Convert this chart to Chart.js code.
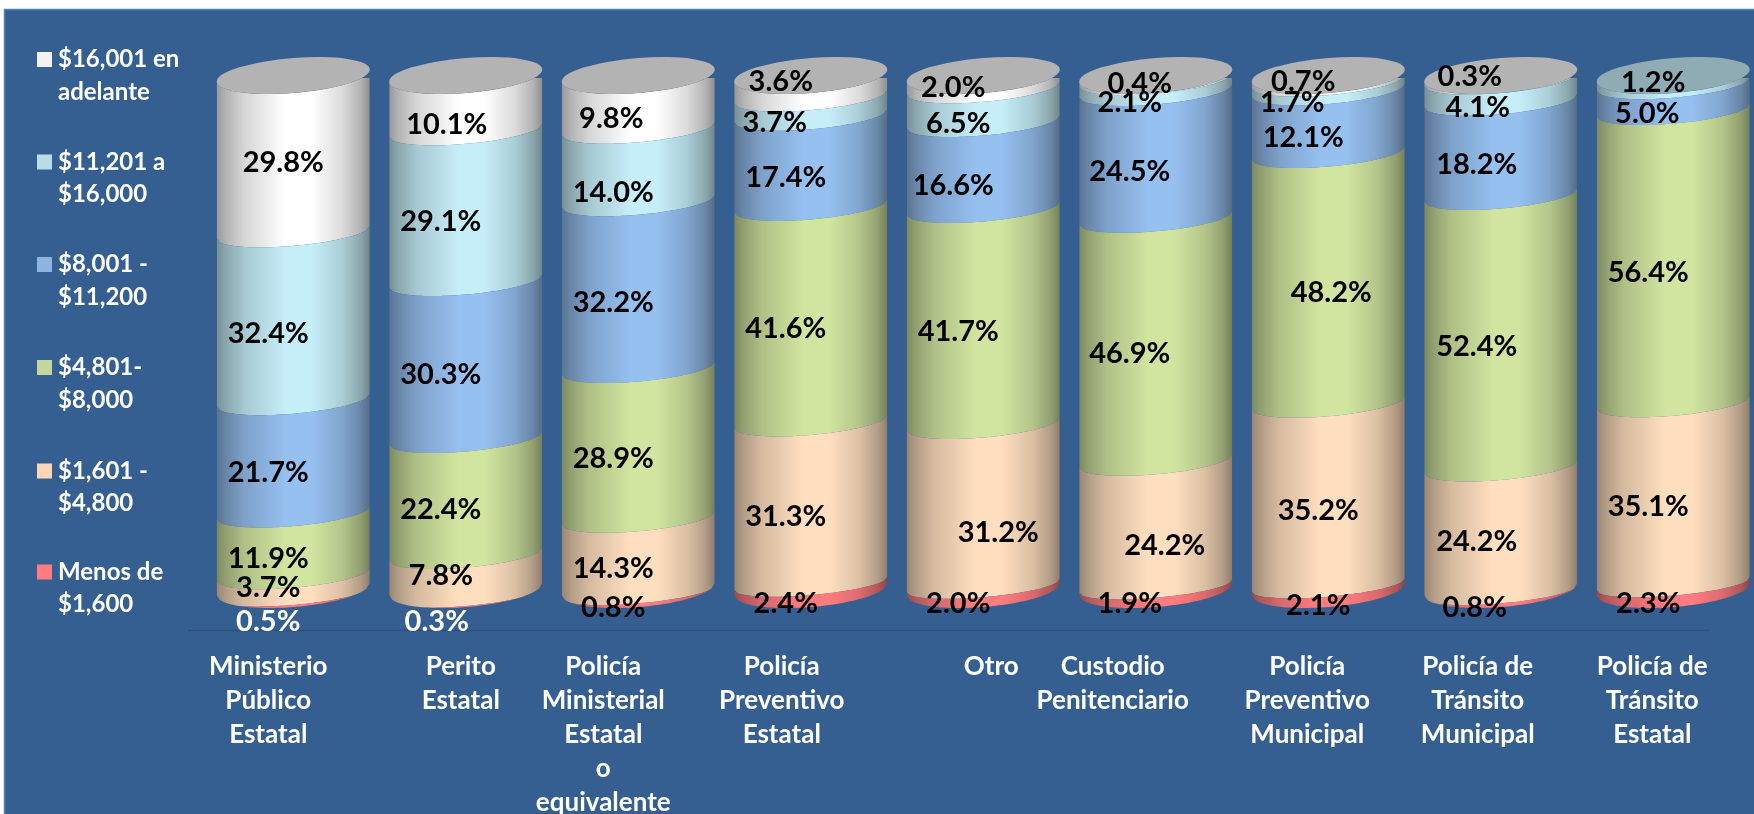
<!DOCTYPE html>
<html lang="es">
<head>
<meta charset="utf-8">
<title>Ingreso mensual por corporación</title>
<script src="https://cdn.jsdelivr.net/npm/chart.js@4"></script>
<style>
html,body{margin:0;padding:0;background:#fff;overflow:hidden;width:1754px;height:814px}
canvas{display:block}
</style>
</head>
<body>
<canvas id="c" width="1760" height="814"></canvas>
<script>
const categories = [
  ["Ministerio","Público","Estatal"],
  ["Perito","Estatal"],
  ["Policía","Ministerial","Estatal","o","equivalente"],
  ["Policía","Preventivo","Estatal"],
  ["Otro"],
  ["Custodio","Penitenciario"],
  ["Policía","Preventivo","Municipal"],
  ["Policía de","Tránsito","Municipal"],
  ["Policía de","Tránsito","Estatal"]
];
const seriesNames = [
  ["Menos de","$1,600"],
  ["$1,601 -","$4,800"],
  ["$4,801-","$8,000"],
  ["$8,001 -","$11,200"],
  ["$11,201 a","$16,000"],
  ["$16,001 en","adelante"]
];
const menos1600   = [0.5,0.3,0.8,2.4,2.0,1.9,2.1,0.8,2.3];
const de1601      = [3.7,7.8,14.3,31.3,31.2,24.2,35.2,24.2,35.1];
const de4801      = [11.9,22.4,28.9,41.6,41.7,46.9,48.2,52.4,56.4];
const de8001      = [21.7,30.3,32.2,17.4,16.6,24.5,12.1,18.2,5.0];
const de11201     = [32.4,29.1,14.0,3.7,6.5,2.1,1.7,4.1,1.2];
const de16001     = [29.8,10.1,9.8,3.6,2.0,0.4,0.7,0.3,null];
const seriesValues = [menos1600,de1601,de4801,de8001,de11201,de16001];

const bodyColors   = ["#FF7C80","#FFDFBF","#D1E5A0","#96C0F0","#C6EEF9","#FFFFFF"];
const legendColors = ["#FF7C80","#FCD5B5","#C3D69B","#8EB4E3","#B7DEE8","#F2F2F2"];

/* manual placement of the value labels, as offsets from the centre of each segment */
const labelDX = [
  [-25,-29,-25,-25,-25,-26,-10,-26,-25],
  [-25,-25,-25,-25, 15,  9,-10,-24,-25],
  [-25,-25,-25,-25,-25,-26,  3,-24,-25],
  [-25,-25,-25,-25,-30,-26,-25,-24,-26],
  [-25,-25,-25,-36,-25,-26,-36,-23,-20],
  [-10,-19,-27,-30,-30,-16,-25,-31,  0]
];
const labelDY = [
  [27,26,14,14,13,13,15,14,14],
  [ 4, 1,14,14,28,22,17,12,13],
  [15,14,16,15,16,14,15,16,16],
  [16,15,18,17,21,17,16,17,16],
  [17,16,28,16,18,17,17,17, 2],
  [ 7,20,15,-6, 4, 5, 2,-2, 0]
];
const tickDX = [-25,-5,-35,-29,8,-43,-21,-23,-21];

const FONT = "Lato, 'Open Sans', sans-serif";

const PLOT_TOP = 78;
const BAND_SKEW = 6.5, BAND_RY = 13.5, LOW_BAND_RY = 11.5; /* curve of the slices' edges */
const CAP_SKEW = 6, CAP_RY = 17.5, CAP_LIFT = 2.5;         /* the top face is seen a little wider */
const FOOT_LIFT = 7;                                       /* the base outline of the cylinder */

function shade(hex, f) {
  const n = parseInt(hex.slice(1), 16);
  const c = [n >> 16 & 255, n >> 8 & 255, n & 255].map(x => Math.round(x * f));
  return `rgb(${c[0]},${c[1]},${c[2]})`;
}
function frontArc(ctx, cx, cy, rx, ry, skew, reverse) {
  const N = 48;
  for (let i = 0; i <= N; i++) {
    const t = reverse ? 1 - i / N : i / N;
    const u = -1 + 2 * t;
    ctx.lineTo(cx + rx * u, cy - skew * u + ry * Math.sqrt(Math.max(0, 1 - u * u)));
  }
}
class CylinderSlice extends Chart.BarElement {
  static id = 'cylinderSlice';
  static defaults = Chart.BarElement.defaults;
  draw(ctx) {
    const {x, y, base, width} = this.getProps(['x', 'y', 'base', 'width']);
    if (!isFinite(y) || !isFinite(base)) return;
    const rx = width / 2, col = this.options.backgroundColor;
    const zeroPx = this.$zeroPx;
    const edgeRy = py => (zeroPx - py < 16 ? LOW_BAND_RY : BAND_RY);
    const g = ctx.createLinearGradient(x - rx, 0, x + rx, 0);
    [[0,.60],[.06,.70],[.18,.84],[.45,1],[.62,1],[.82,.86],[.94,.70],[1,.56]]
      .forEach(([p, f]) => g.addColorStop(p, shade(col, f)));
    ctx.save();
    /* the whole cylinder outline ends on the foot arc */
    ctx.beginPath();
    ctx.moveTo(x - rx, 0);
    ctx.lineTo(x + rx, 0);
    frontArc(ctx, x, zeroPx - FOOT_LIFT, rx, CAP_RY + 0.5, CAP_SKEW, true);
    ctx.closePath();
    ctx.clip();
    ctx.fillStyle = g;
    ctx.beginPath();
    if (y <= PLOT_TOP + 1) frontArc(ctx, x, y - CAP_LIFT, rx, CAP_RY, CAP_SKEW, false);
    else frontArc(ctx, x, y, rx, edgeRy(y), BAND_SKEW, false);
    if (Math.abs(base - zeroPx) < 0.5) {
      ctx.lineTo(x + rx, base + 40);
      ctx.lineTo(x - rx, base + 40);
    } else {
      frontArc(ctx, x, base, rx, edgeRy(base), BAND_SKEW, true);
    }
    ctx.closePath();
    ctx.fill();
    ctx.restore();
  }
}
class CylinderController extends Chart.BarController {
  static id = 'cylinder';
  static defaults = {...Chart.BarController.defaults, dataElementType: 'cylinderSlice'};
  static overrides = Chart.BarController.overrides;
}
Chart.register(CylinderSlice, CylinderController);

const framePlugin = {
  id: 'frame',
  beforeDraw(chart) {
    const ctx = chart.ctx;
    ctx.save();
    ctx.fillStyle = '#fff';
    ctx.fillRect(0, 0, chart.width, chart.height);
    ctx.fillStyle = '#365F91';
    ctx.fillRect(4, 9, chart.width, chart.height);
    ctx.strokeStyle = '#4F81BD';
    ctx.lineWidth = 1.5;
    ctx.beginPath();
    ctx.moveTo(4.5, chart.height);
    ctx.lineTo(4.5, 9.5);
    ctx.lineTo(chart.width, 9.5);
    ctx.stroke();
    /* floor line */
    const sx = chart.scales.x;
    ctx.strokeStyle = '#2F4F7C';
    ctx.lineWidth = 1.5;
    ctx.beginPath();
    ctx.moveTo(sx.left - 19, sx.top + 0.5);
    ctx.lineTo(sx.left + 1502, sx.top + 0.5);
    ctx.stroke();
    ctx.restore();
    /* category labels sit off-centre in the original */
    const items = sx.getLabelItems(chart.chartArea);
    if (!items._moved) {
      items.forEach((it, i) => { it.options.translation[0] += tickDX[i]; });
      items._moved = true;
    }
  },
  beforeDatasetsDraw(chart) {
    const zero = chart.scales.y.getPixelForValue(0);
    chart.data.datasets.forEach((d, k) => {
      chart.getDatasetMeta(k).data.forEach(el => { el.$zeroPx = zero; });
    });
  }
};

const capsAndLabels = {
  id: 'capsAndLabels',
  afterDatasetsDraw(chart) {
    const ctx = chart.ctx;
    ctx.save();
    /* top faces */
    categories.forEach((_, i) => {
      let top = -1;
      chart.data.datasets.forEach((d, k) => { if (d.data[i] != null) top = k; });
      const el = chart.getDatasetMeta(top).data[i];
      const rx = el.width / 2;
      ctx.save();
      ctx.transform(1, -CAP_SKEW / rx, 0, 1, el.x, el.y - CAP_LIFT);
      ctx.beginPath();
      ctx.ellipse(0, 0, rx, CAP_RY, 0, 0, Math.PI * 2);
      ctx.fillStyle = shade(bodyColors[top], top === 5 ? 0.70 : 0.72);
      ctx.fill();
      ctx.restore();
    });
    /* value labels */
    ctx.font = `bold 29px ${FONT}`;
    ctx.textAlign = 'center';
    ctx.textBaseline = 'middle';
    chart.data.datasets.forEach((d, k) => {
      const meta = chart.getDatasetMeta(k);
      d.data.forEach((v, i) => {
        if (v == null) return;
        const el = meta.data[i];
        const white = k === 0 && i < 2;
        ctx.fillStyle = white ? '#FFFFFF' : '#000000';
        ctx.fillText(v.toFixed(1) + '%', el.x + labelDX[k][i], (el.y + el.base) / 2 + labelDY[k][i]);
      });
    });
    /* legend, last series on top */
    const rowY = [572, 471, 367.5, 264.5, 162, 59.5];
    ctx.textAlign = 'left';
    ctx.font = `bold 24px ${FONT}`;
    chart.data.datasets.forEach((d, k) => {
      const y = rowY[k];
      ctx.fillStyle = legendColors[k];
      ctx.fillRect(37, y - 7.5, 15, 15);
      ctx.fillStyle = '#FFFFFF';
      d.label.forEach((line, l) => ctx.fillText(line, 58, y + l * 32.5));
    });
    ctx.restore();
  }
};

new Chart(document.getElementById('c'), {
  type: 'cylinder',
  data: {
    labels: categories,
    datasets: seriesValues.map((vals, k) => ({
      label: seriesNames[k],
      data: vals,
      backgroundColor: bodyColors[k],
      borderWidth: 0,
      stack: 'all'
    }))
  },
  options: {
    responsive: false,
    animation: false,
    events: [],
    layout: {padding: {left: 207, right: 0.5, top: PLOT_TOP, bottom: 0}},
    datasets: {cylinder: {barPercentage: 153 / 172.5, categoryPercentage: 1}},
    plugins: {legend: {display: false}, tooltip: {enabled: false}, title: {display: false}},
    scales: {
      x: {
        stacked: true,
        grid: {display: false, drawTicks: false},
        border: {display: false},
        afterFit(s) { s.height = 184; },
        ticks: {
          autoSkip: false, maxRotation: 0, minRotation: 0, padding: 20,
          color: '#FFFFFF',
          font: {family: FONT, weight: 'bold', size: 26, lineHeight: 34 / 26}
        }
      },
      y: {
        stacked: true,
        min: -6.56,
        max: 100,
        display: false
      }
    }
  },
  plugins: [framePlugin, capsAndLabels]
});
</script>
</body>
</html>
